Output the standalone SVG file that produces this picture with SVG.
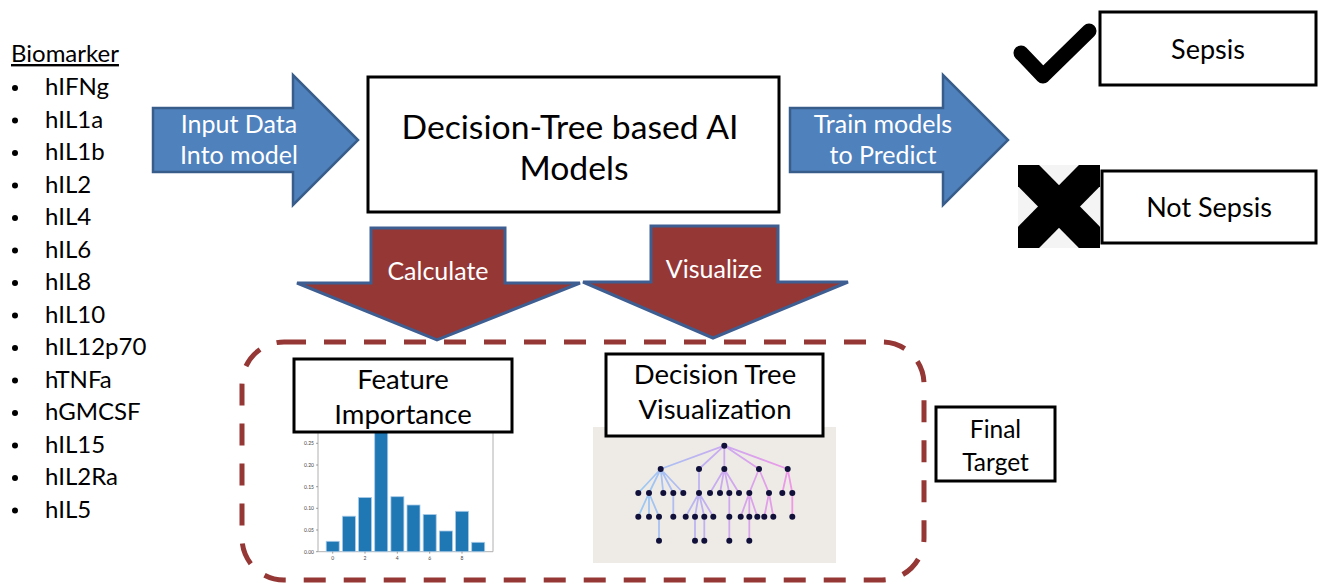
<svg xmlns="http://www.w3.org/2000/svg" width="1324" height="585" viewBox="0 0 1324 585">
  <defs>
    <style>
      text { font-family: "Lato", "Open Sans", "Liberation Sans", sans-serif; }
      .box { fill: #ffffff; stroke: #000000; stroke-width: 3; }
      .blue-arrow { fill: #4F81BD; stroke: #385D8A; stroke-width: 2.5; stroke-linejoin: miter; }
      .red-arrow { fill: #953735; stroke: #3E5E92; stroke-width: 3; stroke-linejoin: miter; }
      .lbl-w { fill: #ffffff; font-size: 25px; text-anchor: middle; }
      .lbl { fill: #000000; text-anchor: middle; }
      .bio { fill: #000000; font-size: 24px; }
      .bar { fill: #1F77B4; stroke: #a9cbe8; stroke-width: 0.8; }
      .axis { fill: none; stroke: #b0b0b0; stroke-width: 1; }
      .tick { fill: #444444; font-size: 5px; }
      .edge { stroke: url(#edgeGrad); stroke-width: 1.8; fill: none; opacity: 0.9; }
      .tnode { fill: #10103a; }
    </style>
    <linearGradient id="edgeGrad" gradientUnits="userSpaceOnUse" x1="635" y1="0" x2="795" y2="0">
      <stop offset="0" stop-color="#8ec8f5"/>
      <stop offset="0.5" stop-color="#c3a6f2"/>
      <stop offset="1" stop-color="#f08ee6"/>
    </linearGradient>
    <clipPath id="xClip">
      <rect x="1018" y="165" width="82" height="83"/>
    </clipPath>
  </defs>

  <!-- biomarker list -->
  <g id="biomarkers">
    <text x="11" y="62" class="bio" text-decoration="underline">Biomarker</text>
    <g>
      <circle cx="15" cy="88" r="3"/><text x="45" y="95" class="bio">hIFNg</text>
      <circle cx="15" cy="120.5" r="3"/><text x="45" y="127.5" class="bio">hIL1a</text>
      <circle cx="15" cy="153" r="3"/><text x="45" y="160" class="bio">hIL1b</text>
      <circle cx="15" cy="185.5" r="3"/><text x="45" y="192.5" class="bio">hIL2</text>
      <circle cx="15" cy="218" r="3"/><text x="45" y="225" class="bio">hIL4</text>
      <circle cx="15" cy="250.5" r="3"/><text x="45" y="257.5" class="bio">hIL6</text>
      <circle cx="15" cy="283" r="3"/><text x="45" y="290" class="bio">hIL8</text>
      <circle cx="15" cy="315.5" r="3"/><text x="45" y="322.5" class="bio">hIL10</text>
      <circle cx="15" cy="348" r="3"/><text x="45" y="355" class="bio">hIL12p70</text>
      <circle cx="15" cy="380.5" r="3"/><text x="45" y="387.5" class="bio">hTNFa</text>
      <circle cx="15" cy="413" r="3"/><text x="45" y="420" class="bio">hGMCSF</text>
      <circle cx="15" cy="445.5" r="3"/><text x="45" y="452.5" class="bio">hIL15</text>
      <circle cx="15" cy="478" r="3"/><text x="45" y="485" class="bio">hIL2Ra</text>
      <circle cx="15" cy="510.5" r="3"/><text x="45" y="517.5" class="bio">hIL5</text>
    </g>
  </g>

  <!-- block arrows -->
  <g id="connectors">
    <g id="arrow-input">
      <polygon class="blue-arrow" points="153,108 293,108 293,75 358,140 293,205 293,172 153,172"/>
      <text x="239" y="133" class="lbl-w">Input Data</text>
      <text x="239" y="164" class="lbl-w">Into model</text>
    </g>
    <g id="arrow-train">
      <polygon class="blue-arrow" points="790,108 943,108 943,75 1008,140 943,205 943,172 790,172"/>
      <text x="883" y="133" class="lbl-w">Train models</text>
      <text x="883" y="164" class="lbl-w">to Predict</text>
    </g>
    <g id="arrow-calculate">
      <polygon class="red-arrow" points="371,228 505,228 505,283 580,283 437,340 297,283 371,283"/>
      <text x="438" y="280" class="lbl-w" font-size="24.5">Calculate</text>
    </g>
    <g id="arrow-visualize">
      <polygon class="red-arrow" points="651,226 778,226 778,282 848,282 713,338 583,282 651,282"/>
      <text x="714" y="278" class="lbl-w" font-size="24">Visualize</text>
    </g>
  </g>

  <!-- central model box -->
  <g id="node-models">
    <rect class="box" x="368" y="77" width="411" height="135"/>
    <text x="570" y="139" class="lbl" font-size="33.7">Decision-Tree based AI</text>
    <text x="574" y="180" class="lbl" font-size="33.7">Models</text>
  </g>

  <!-- outcomes -->
  <g id="node-sepsis">
    <path d="M1021,53 L1043,76 L1089,31" fill="none" stroke="#000" stroke-width="15" stroke-linecap="round" stroke-linejoin="round"/>
    <rect class="box" x="1100" y="12" width="216" height="73"/>
    <text x="1208" y="59" class="lbl" font-size="27">Sepsis</text>
  </g>
  <g id="node-not-sepsis">
    <rect x="1018" y="165" width="82" height="83" fill="#F4F4F4"/>
    <g clip-path="url(#xClip)" stroke="#000" stroke-width="30">
      <line x1="1018" y1="165" x2="1100" y2="248"/>
      <line x1="1100" y1="165" x2="1018" y2="248"/>
    </g>
    <rect class="box" x="1102" y="171" width="214" height="72"/>
    <text x="1209" y="217" class="lbl" font-size="27">Not Sepsis</text>
  </g>

  <!-- final target region -->
  <g id="final-target-region">
    <rect x="242" y="342" width="682" height="238" rx="42" ry="42" fill="none" stroke="#953735" stroke-width="5" stroke-dasharray="22 18"/>
  </g>

  <!-- feature importance bar chart -->
  <g id="node-feature-importance">
    <g id="bar-chart">
      <polyline class="axis" points="318,432 318,551.7 493,551.7 493,432"/>
      <rect class="bar" x="326.2" y="541.3" width="13" height="10.4"/>
      <rect class="bar" x="342.4" y="516.2" width="13" height="35.5"/>
      <rect class="bar" x="358.5" y="497.5" width="13" height="54.2"/>
      <rect class="bar" x="374.7" y="430" width="13" height="121.7"/>
      <rect class="bar" x="390.9" y="496.7" width="13" height="55"/>
      <rect class="bar" x="407.0" y="505" width="13" height="46.7"/>
      <rect class="bar" x="423.2" y="514.5" width="13" height="37.2"/>
      <rect class="bar" x="439.4" y="531" width="13" height="20.7"/>
      <rect class="bar" x="455.5" y="511.3" width="13" height="40.4"/>
      <rect class="bar" x="471.7" y="542.3" width="13" height="9.4"/>
      <g class="tick" text-anchor="end">
        <text x="314" y="553.5">0.00</text>
        <text x="314" y="531.8">0.05</text>
        <text x="314" y="510.1">0.10</text>
        <text x="314" y="488.5">0.15</text>
        <text x="314" y="466.8">0.20</text>
        <text x="314" y="445.1">0.25</text>
      </g>
      <g stroke="#666" stroke-width="0.6">
        <line x1="316" y1="551.7" x2="318" y2="551.7"/>
        <line x1="316" y1="530" x2="318" y2="530"/>
        <line x1="316" y1="508.3" x2="318" y2="508.3"/>
        <line x1="316" y1="486.7" x2="318" y2="486.7"/>
        <line x1="316" y1="465" x2="318" y2="465"/>
        <line x1="316" y1="443.3" x2="318" y2="443.3"/>
        <line x1="332.7" y1="551.7" x2="332.7" y2="553.7"/>
        <line x1="365" y1="551.7" x2="365" y2="553.7"/>
        <line x1="397.3" y1="551.7" x2="397.3" y2="553.7"/>
        <line x1="429.7" y1="551.7" x2="429.7" y2="553.7"/>
        <line x1="462" y1="551.7" x2="462" y2="553.7"/>
      </g>
      <g class="tick" text-anchor="middle">
        <text x="332.7" y="560">0</text>
        <text x="365" y="560">2</text>
        <text x="397.3" y="560">4</text>
        <text x="429.7" y="560">6</text>
        <text x="462" y="560">8</text>
      </g>
    </g>
    <rect class="box" x="294" y="359" width="218" height="73" stroke-width="4"/>
    <text x="403" y="389" class="lbl" font-size="27.5">Feature</text>
    <text x="403" y="424" class="lbl" font-size="27.5">Importance</text>
  </g>

  <!-- decision tree visualization -->
  <g id="node-tree-visualization">
    <rect x="593" y="427" width="243" height="136" fill="#EEEBE6"/>
    <g id="tree-edges">
      <path class="edge" d="M724.3,445.7 L660.7,469 M724.3,445.7 L699,469 M724.3,445.7 L724.3,469 M724.3,445.7 L759,469 M724.3,445.7 L787.7,469"/>
      <path class="edge" d="M660.7,469 L638.3,493 M660.7,469 L649,493 M660.7,469 L663.3,493 M660.7,469 L673.3,493 M660.7,469 L683.3,493 M699,469 L699,493 M724.3,469 L710,493 M724.3,469 L720,493 M724.3,469 L729.3,493 M724.3,469 L739,493 M759,469 L749.3,493 M759,469 L769,493 M787.7,469 L782.3,493 M787.7,469 L792.3,493"/>
      <path class="edge" d="M649,493 L638.3,516.7 M649,493 L649,516.7 M649,493 L659,516.7 M673.3,493 L673.3,516.7 M699,493 L685.7,516.7 M699,493 L695,516.7 M699,493 L704.3,516.7 M699,493 L713.3,516.7 M729.3,493 L729.3,516.7 M749.3,493 L740.7,516.7 M749.3,493 L749.3,516.7 M749.3,493 L757.3,516.7 M769,493 L764.3,516.7 M769,493 L773.3,516.7 M792.3,493 L792.3,516.7"/>
      <path class="edge" d="M659,516.7 L659,540.7 M695,516.7 L695,540.7 M704.3,516.7 L704.3,540.7 M729.3,516.7 L729.3,540.7 M749.3,516.7 L749.3,540.7"/>
    </g>
    <g id="tree-nodes" class="tnode">
      <circle cx="724.3" cy="445.7" r="3"/>
      <circle cx="660.7" cy="469" r="3"/><circle cx="699" cy="469" r="3"/><circle cx="724.3" cy="469" r="3"/><circle cx="759" cy="469" r="3"/><circle cx="787.7" cy="469" r="3"/>
      <circle cx="638.3" cy="493" r="3"/><circle cx="649" cy="493" r="3"/><circle cx="663.3" cy="493" r="3"/><circle cx="673.3" cy="493" r="3"/><circle cx="683.3" cy="493" r="3"/><circle cx="699" cy="493" r="3"/><circle cx="710" cy="493" r="3"/><circle cx="720" cy="493" r="3"/><circle cx="729.3" cy="493" r="3"/><circle cx="739" cy="493" r="3"/><circle cx="749.3" cy="493" r="3"/><circle cx="769" cy="493" r="3"/><circle cx="782.3" cy="493" r="3"/><circle cx="792.3" cy="493" r="3"/>
      <circle cx="638.3" cy="516.7" r="3"/><circle cx="649" cy="516.7" r="3"/><circle cx="659" cy="516.7" r="3"/><circle cx="673.3" cy="516.7" r="3"/><circle cx="685.7" cy="516.7" r="3"/><circle cx="695" cy="516.7" r="3"/><circle cx="704.3" cy="516.7" r="3"/><circle cx="713.3" cy="516.7" r="3"/><circle cx="729.3" cy="516.7" r="3"/><circle cx="740.7" cy="516.7" r="3"/><circle cx="749.3" cy="516.7" r="3"/><circle cx="757.3" cy="516.7" r="3"/><circle cx="764.3" cy="516.7" r="3"/><circle cx="773.3" cy="516.7" r="3"/><circle cx="792.3" cy="516.7" r="3"/>
      <circle cx="659" cy="540.7" r="3"/><circle cx="695" cy="540.7" r="3"/><circle cx="704.3" cy="540.7" r="3"/><circle cx="729.3" cy="540.7" r="3"/><circle cx="749.3" cy="540.7" r="3"/>
    </g>
    <rect class="box" x="606" y="354" width="217" height="82" stroke-width="4"/>
    <text x="715" y="384" class="lbl" font-size="27.5">Decision Tree</text>
    <text x="715" y="419" class="lbl" font-size="27.5">Visualization</text>
  </g>

  <!-- final target label -->
  <g id="node-final-target">
    <rect class="box" x="936" y="407" width="119" height="74"/>
    <text x="995.5" y="438" class="lbl" font-size="24.5">Final</text>
    <text x="995.5" y="471" class="lbl" font-size="24.5">Target</text>
  </g>
</svg>
